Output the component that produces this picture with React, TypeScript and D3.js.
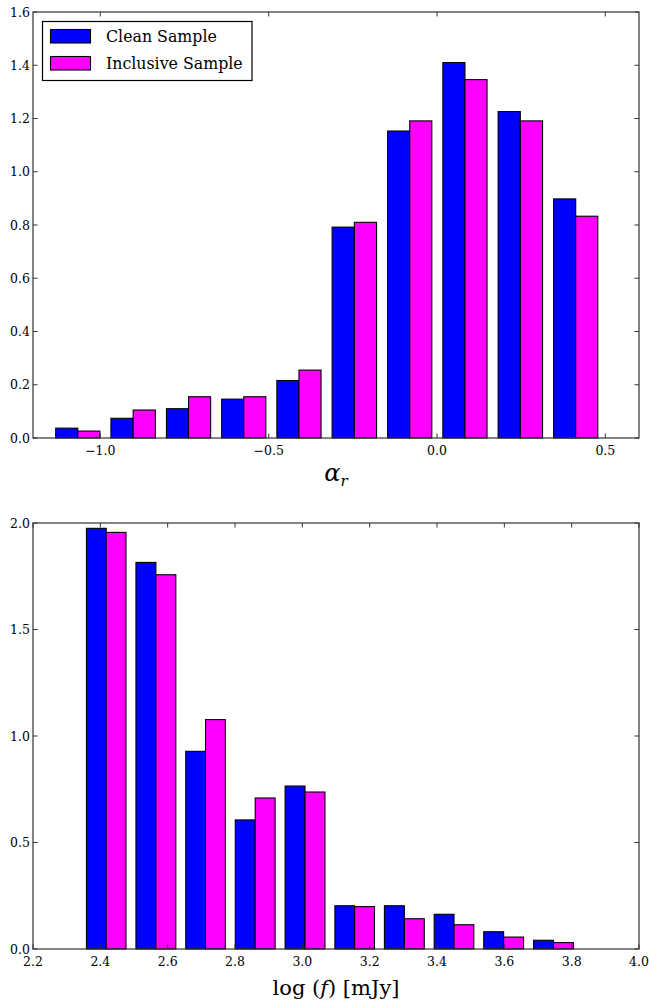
import React from "react";
import * as d3 from "d3";

// ---- Data ----
const seriesNames = ["Clean Sample", "Inclusive Sample"];
const seriesColors = ["#0000ff", "#ff00ff"];

// top panel: spectral index alpha_r histogram
const alphaBinEdges = [-1.149, -0.985, -0.82, -0.656, -0.492, -0.328, -0.163, 0.001, 0.165, 0.33, 0.494];
const alphaClean = [0.037, 0.074, 0.11, 0.146, 0.216, 0.792, 1.153, 1.41, 1.226, 0.898];
const alphaInclusive = [0.026, 0.105, 0.155, 0.155, 0.255, 0.81, 1.191, 1.346, 1.191, 0.833];
const alphaXTicks = [-1.0, -0.5, 0.0, 0.5];
const alphaYTicks = [0, 0.2, 0.4, 0.6, 0.8, 1.0, 1.2, 1.4, 1.6];

// bottom panel: log flux histogram
const fluxBinEdges = [2.344, 2.491, 2.639, 2.786, 2.934, 3.082, 3.229, 3.377, 3.524, 3.672, 3.82];
const fluxClean = [1.975, 1.815, 0.928, 0.606, 0.765, 0.203, 0.203, 0.163, 0.081, 0.041];
const fluxInclusive = [1.956, 1.757, 1.077, 0.709, 0.737, 0.199, 0.142, 0.114, 0.056, 0.03];
const fluxXTicks = [2.2, 2.4, 2.6, 2.8, 3.0, 3.2, 3.4, 3.6, 3.8, 4.0];
const fluxYTicks = [0, 0.5, 1.0, 1.5, 2.0];

const FONT = "DejaVu Serif";
const AXIS_COLOR = "#333";

function fmt(v: number) {
  const s = v.toFixed(1);
  return v < 0 ? "\u2212" + s.slice(1) : s;
}

type PanelProps = {
  top: number;
  bottom: number;
  xDomain: [number, number];
  yDomain: [number, number];
  edges: number[];
  series: number[][];
  xTicks: number[];
  yTicks: number[];
};

function Panel({ top, bottom, xDomain, yDomain, edges, series, xTicks, yTicks }: PanelProps) {
  const left = 33;
  const right = 639;
  const x = d3.scaleLinear().domain(xDomain).range([left, right]);
  const y = d3.scaleLinear().domain(yDomain).range([bottom, top]);
  const nS = series.length;
  const bars: any[] = [];
  for (let b = 0; b < edges.length - 1; b++) {
    const bw = edges[b + 1] - edges[b];
    for (let s = 0; s < nS; s++) {
      const x0 = edges[b] + 0.1 * bw + (s * 0.8 * bw) / nS;
      const x1 = x0 + (0.8 * bw) / nS;
      const v = series[s][b];
      bars.push(
        <rect
          key={`${b}-${s}`}
          x={x(x0)}
          y={y(v)}
          width={x(x1) - x(x0)}
          height={y(0) - y(v)}
          fill={seriesColors[s]}
          stroke="#000"
          strokeWidth={1.1}
        />
      );
    }
  }
  const tl = 4.5;
  return (
    <g>
      {bars}
      <rect x={left} y={top} width={right - left} height={bottom - top} fill="none" stroke={AXIS_COLOR} strokeWidth={1.2} />
      {xTicks.map((t) => (
        <g key={"x" + t}>
          <line x1={x(t)} x2={x(t)} y1={bottom} y2={bottom - tl} stroke={AXIS_COLOR} strokeWidth={1} />
          <line x1={x(t)} x2={x(t)} y1={top} y2={top + tl} stroke={AXIS_COLOR} strokeWidth={1} />
          <text x={x(t)} y={bottom + 17} textAnchor="middle" style={{ fontFamily: FONT, fontSize: 12.5 }} fill="#000">
            {fmt(t)}
          </text>
        </g>
      ))}
      {yTicks.map((t) => (
        <g key={"y" + t}>
          <line x1={left} x2={left + tl} y1={y(t)} y2={y(t)} stroke={AXIS_COLOR} strokeWidth={1} />
          <line x1={right} x2={right - tl} y1={y(t)} y2={y(t)} stroke={AXIS_COLOR} strokeWidth={1} />
          <text x={left - 3} y={y(t) + 4.5} textAnchor="end" style={{ fontFamily: FONT, fontSize: 12.5 }} fill="#000">
            {fmt(t)}
          </text>
        </g>
      ))}
    </g>
  );
}

export default function App() {
  return (
    <svg width={649} height={1001} style={{ position: "absolute", left: 0, top: 0, background: "#fff" }}>
      <rect x={0} y={0} width={649} height={1001} fill="#fff" />
      <Panel
        top={12}
        bottom={438}
        xDomain={[-1.2, 0.6]}
        yDomain={[0, 1.6]}
        edges={alphaBinEdges}
        series={[alphaClean, alphaInclusive]}
        xTicks={alphaXTicks}
        yTicks={alphaYTicks}
      />
      <Panel
        top={523}
        bottom={949}
        xDomain={[2.2, 4.0]}
        yDomain={[0, 2.0]}
        edges={fluxBinEdges}
        series={[fluxClean, fluxInclusive]}
        xTicks={fluxXTicks}
        yTicks={fluxYTicks}
      />
      {/* legend */}
      <g>
        <rect x={42.5} y={21.5} width={209.5} height={59} fill="#fff" stroke="#000" strokeWidth={1.2} />
        {seriesNames.map((n, i) => (
          <g key={n}>
            <rect x={50.5} y={29.5 + i * 27} width={40} height={13.5} fill={seriesColors[i]} stroke="#000" strokeWidth={1.1} />
            <text x={106} y={42 + i * 27} style={{ fontFamily: FONT, fontSize: 15.8 }} fill="#000">
              {n}
            </text>
          </g>
        ))}
      </g>
      {/* axis labels */}
      <text x={336} y={481} textAnchor="middle" style={{ fontFamily: FONT, fontSize: 24 }} fill="#000">
        <tspan fontStyle="italic">α</tspan>
        <tspan fontStyle="italic" fontSize={15} dy={5}>r</tspan>
      </text>
      <text x={336} y={995} textAnchor="middle" style={{ fontFamily: FONT, fontSize: 21 }} fill="#000">
        log (<tspan fontStyle="italic">f</tspan>) [mJy]
      </text>
    </svg>
  );
}
